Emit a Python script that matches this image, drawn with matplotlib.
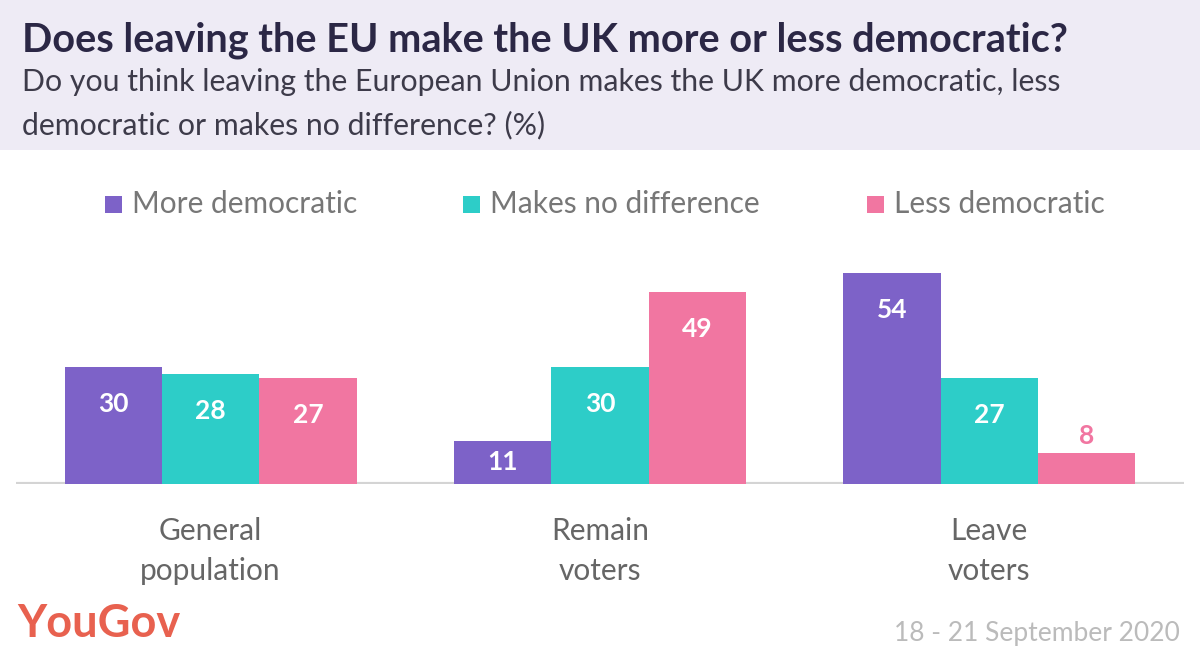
import matplotlib.pyplot as plt
from matplotlib.patches import Rectangle
import numpy as np

plt.rcParams['font.family'] = ['Lato', 'DejaVu Sans']

groups = ["General\npopulation", "Remain\nvoters", "Leave\nvoters"]
series = ["More democratic", "Makes no difference", "Less democratic"]
more_democratic = [30, 11, 54]
no_difference = [28, 30, 27]
less_democratic = [27, 49, 8]
colors = ["#7d62c8", "#2dcdc8", "#f176a1"]

title = "Does leaving the EU make the UK more or less democratic?"
subtitle = ("Do you think leaving the European Union makes the UK more democratic, less\n"
            "democratic or makes no difference? (%)")
date_text = "18 - 21 September 2020"

W, H = 1200, 660
fig = plt.figure(figsize=(12, 6.6), dpi=100)
fig.patch.set_facecolor("white")

# header band
fig.patches.append(Rectangle((0, 1 - 150 / H), 1, 150 / H, transform=fig.transFigure,
                             facecolor="#eeebf5", edgecolor="none", zorder=0))
fig.text(22 / W, 1 - 40 / H, title, fontsize=28.5, fontweight="bold", color="#2b2745",
         va="center", ha="left")
fig.text(22 / W, 1 - 82 / H, subtitle.split("\n")[0], fontsize=21.8, color="#3d3b4a",
         va="center", ha="left")
fig.text(22 / W, 1 - 125 / H, subtitle.split("\n")[1], fontsize=21.8, color="#3d3b4a",
         va="center", ha="left")

# axes: baseline at y=484px, x from 16 to 1184 px
ax = fig.add_axes([16 / W, (H - 484) / H, 1168 / W, (484 - 249) / H])
ymax = 60
ax.set_xlim(-0.5, 2.5)
ax.set_ylim(0, ymax)
ax.axis("off")
ax.axhline(0, color="#d4d4d4", linewidth=3, zorder=1)

x = np.arange(len(groups))
width = 0.25
px_per_unit = (484 - 249) / ymax
for i, (vals, c) in enumerate(zip([more_democratic, no_difference, less_democratic], colors)):
    xs = x + (i - 1) * width
    ax.bar(xs, vals, width=width, color=c, zorder=2)
    for xi, v in zip(xs, vals):
        if v < 10:
            ax.text(xi, v + 1.2, str(v), ha="center", va="bottom", fontsize=19,
                    fontweight="bold", color=c)
        elif v * px_per_unit < 80:
            ax.text(xi, v / 2, str(v), ha="center", va="center", fontsize=19,
                    fontweight="bold", color="white")
        else:
            ax.text(xi, v - 37 / px_per_unit, str(v), ha="center", va="center", fontsize=19,
                    fontweight="bold", color="white")

for xi, g in zip(x, groups):
    line1, line2 = g.split("\n")
    ax.text(xi, -47 / px_per_unit, line1, ha="center", va="center", fontsize=21.5,
            color="#666666")
    ax.text(xi, -87 / px_per_unit, line2, ha="center", va="center", fontsize=21.5,
            color="#666666")

# legend
leg_x = [105, 463, 867]
for lx, name, c in zip(leg_x, series, colors):
    fig.patches.append(Rectangle((lx / W, 1 - 213 / H), 17 / W, 17 / H,
                                 transform=fig.transFigure, facecolor=c, edgecolor="none"))
    fig.text((lx + 27) / W, 1 - 204 / H, name, fontsize=21.5, color="#777777",
             va="center", ha="left")

fig.text(17 / W, 1 - 624 / H, "YouGov", fontsize=32.5, fontweight="bold", color="#e8614f",
         va="center", ha="left")
fig.text(1180 / W, 1 - 633 / H, date_text, fontsize=19, color="#bbbbbb",
         va="center", ha="right")

fig.savefig("out.png", dpi=100)
